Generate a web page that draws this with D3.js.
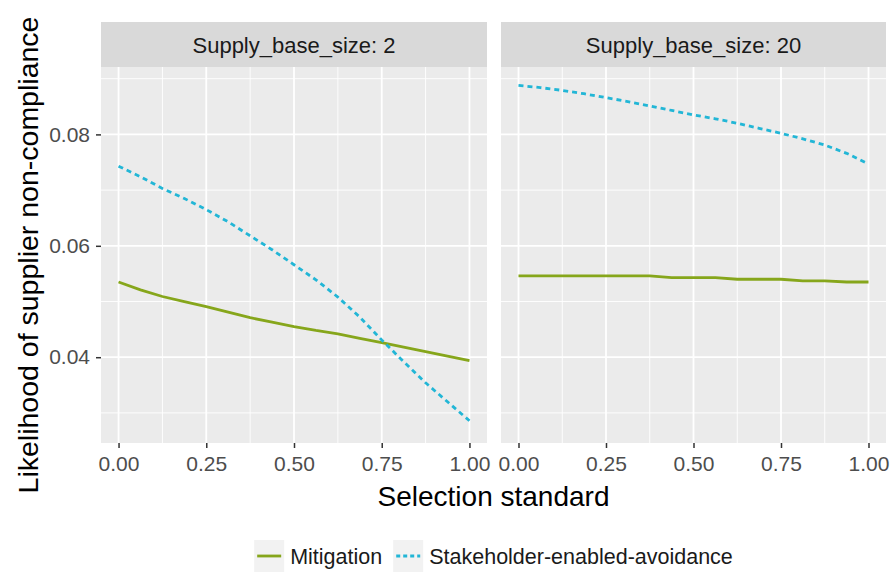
<!DOCTYPE html>
<html>
<head>
<meta charset="utf-8">
<script src="https://cdn.jsdelivr.net/npm/d3@7"></script>
<style>
	body { margin: 0; background: #fff; }
	text { font-family: 'Liberation Sans', Arial, sans-serif; }
</style>
</head>
<body>
<svg id="chart" width="894" height="573"></svg>
<script>
// selection standard values (x)
const selection = [0, 0.0625, 0.125, 0.1875, 0.25, 0.3125, 0.375, 0.4375, 0.5,
	0.5625, 0.625, 0.6875, 0.75, 0.8125, 0.875, 0.9375, 1];

// supply base size 2
const mitigation2 = [0.0535, 0.0521, 0.0509, 0.05, 0.0491, 0.0481, 0.0471, 0.0463, 0.0455,
	0.0448, 0.0442, 0.0434, 0.0426, 0.0418, 0.041, 0.0402, 0.0394];
const avoidance2 = [0.0743, 0.0724, 0.0703, 0.0685, 0.0665, 0.0643, 0.0618, 0.0593, 0.0566,
	0.0539, 0.0508, 0.0472, 0.0431, 0.0392, 0.0354, 0.032, 0.0286];

// supply base size 20
const mitigation20 = [0.0546, 0.0546, 0.0546, 0.0546, 0.0546, 0.0546, 0.0546, 0.0543, 0.0543,
	0.0543, 0.054, 0.054, 0.054, 0.0537, 0.0537, 0.0535, 0.0535];
const avoidance20 = [0.0888, 0.0884, 0.0879, 0.0873, 0.0866, 0.0859, 0.0851, 0.0843, 0.0835,
	0.0828, 0.082, 0.0811, 0.0802, 0.0792, 0.0781, 0.0766, 0.0747];

const panelNames = ['Supply_base_size: 2', 'Supply_base_size: 20'];
const seriesNames = ['Mitigation', 'Stakeholder-enabled-avoidance'];
const xTicks = [0, 0.25, 0.5, 0.75, 1];
const xMinor = [0.125, 0.375, 0.625, 0.875];
const yTicks = [0.04, 0.06, 0.08];
const yMinor = [0.03, 0.05, 0.07, 0.09];

const COLORS = ['#86a61b', '#22b6d6'];
const DASHES = [null, '5,4'];

const STRIP_TOP = 22;
const PANEL_TOP = 67;
const PANEL_BOTTOM = 443;

const panels = [
	{ name: panelNames[0], x0: 101, x1: 487, series: [mitigation2, avoidance2] },
	{ name: panelNames[1], x0: 501, x1: 886, series: [mitigation20, avoidance20] }
];

const svg = d3.select('#chart');

const y = d3.scaleLinear().domain([0.0246, 0.0921]).range([PANEL_BOTTOM, PANEL_TOP]);

panels.forEach(function(p, i) {
	const x = d3.scaleLinear().domain([-0.05, 1.05]).range([p.x0, p.x1]);
	const g = svg.append('g');

	// strip
	g.append('rect')
		.attr('x', p.x0)
		.attr('y', STRIP_TOP)
		.attr('width', p.x1 - p.x0)
		.attr('height', PANEL_TOP - STRIP_TOP)
		.attr('fill', '#d9d9d9');
	g.append('text')
		.attr('x', (p.x0 + p.x1) / 2)
		.attr('y', (STRIP_TOP + PANEL_TOP) / 2 + 8)
		.attr('text-anchor', 'middle')
		.attr('font-size', 22)
		.attr('fill', '#1a1a1a')
		.text(p.name);

	// panel background
	g.append('rect')
		.attr('x', p.x0)
		.attr('y', PANEL_TOP)
		.attr('width', p.x1 - p.x0)
		.attr('height', PANEL_BOTTOM - PANEL_TOP)
		.attr('fill', '#ebebeb');

	// grid
	g.selectAll('line.ymin').data(yMinor).enter().append('line')
		.attr('x1', p.x0).attr('x2', p.x1)
		.attr('y1', d => y(d)).attr('y2', d => y(d))
		.attr('stroke', '#fff').attr('stroke-width', 0.9);
	g.selectAll('line.xmin').data(xMinor).enter().append('line')
		.attr('y1', PANEL_TOP).attr('y2', PANEL_BOTTOM)
		.attr('x1', d => x(d)).attr('x2', d => x(d))
		.attr('stroke', '#fff').attr('stroke-width', 0.9);
	g.selectAll('line.ymaj').data(yTicks).enter().append('line')
		.attr('x1', p.x0).attr('x2', p.x1)
		.attr('y1', d => y(d)).attr('y2', d => y(d))
		.attr('stroke', '#fff').attr('stroke-width', 1.8);
	g.selectAll('line.xmaj').data(xTicks).enter().append('line')
		.attr('y1', PANEL_TOP).attr('y2', PANEL_BOTTOM)
		.attr('x1', d => x(d)).attr('x2', d => x(d))
		.attr('stroke', '#fff').attr('stroke-width', 1.8);

	// x axis
	const xAxis = g.append('g')
		.attr('transform', `translate(0,${PANEL_BOTTOM})`)
		.call(d3.axisBottom(x).tickValues(xTicks).tickFormat(d3.format('.2f')).tickSize(5).tickPadding(8));
	xAxis.select('.domain').remove();
	xAxis.selectAll('line').attr('stroke', '#333').attr('stroke-width', 1.5);
	xAxis.selectAll('text').attr('font-size', 21).attr('fill', '#4d4d4d').attr('font-family', null);

	// y axis only on first panel
	if (i === 0) {
		const yAxis = g.append('g')
			.attr('transform', `translate(${p.x0},0)`)
			.call(d3.axisLeft(y).tickValues(yTicks).tickFormat(d3.format('.2f')).tickSize(5).tickPadding(6));
		yAxis.select('.domain').remove();
		yAxis.selectAll('line').attr('stroke', '#333').attr('stroke-width', 1.5);
		yAxis.selectAll('text').attr('font-size', 21).attr('fill', '#4d4d4d').attr('font-family', null);
	}

	// lines
	const line = d3.line()
		.x((d, k) => x(selection[k]))
		.y(d => y(d));

	p.series.forEach(function(values, s) {
		g.append('path')
			.datum(values)
			.attr('d', line)
			.attr('fill', 'none')
			.attr('stroke', COLORS[s])
			.attr('stroke-width', 2.8)
			.attr('stroke-dasharray', DASHES[s]);
	});
});

// axis titles
svg.append('text')
	.attr('x', (panels[0].x0 + panels[1].x1) / 2)
	.attr('y', 506)
	.attr('text-anchor', 'middle')
	.attr('font-size', 28)
	.attr('fill', '#000')
	.text('Selection standard');

svg.append('text')
	.attr('transform', 'translate(38,255) rotate(-90)')
	.attr('text-anchor', 'middle')
	.attr('font-size', 28.5)
	.attr('fill', '#000')
	.text('Likelihood of supplier non-compliance');

// legend
const legend = svg.append('g');
let cursor = 0;
seriesNames.forEach(function(name, s) {
	const item = legend.append('g').attr('transform', `translate(${cursor},0)`);
	item.append('rect')
		.attr('x', 0).attr('y', -16)
		.attr('width', 30).attr('height', 32)
		.attr('fill', '#f2f2f2');
	item.append('line')
		.attr('x1', 3).attr('x2', 27)
		.attr('y1', 0).attr('y2', 0)
		.attr('stroke', COLORS[s])
		.attr('stroke-width', 2.8)
		.attr('stroke-dasharray', s === 1 ? '4,3' : null);
	const t = item.append('text')
		.attr('x', 36).attr('y', 7.5)
		.attr('font-size', 21.5)
		.attr('fill', '#1a1a1a')
		.text(name);
	cursor += 36 + t.node().getComputedTextLength() + 11;
});
const legendWidth = cursor - 11;
legend.attr('transform', `translate(${(panels[0].x0 + panels[1].x1) / 2 - legendWidth / 2},556)`);
</script>
</body>
</html>
